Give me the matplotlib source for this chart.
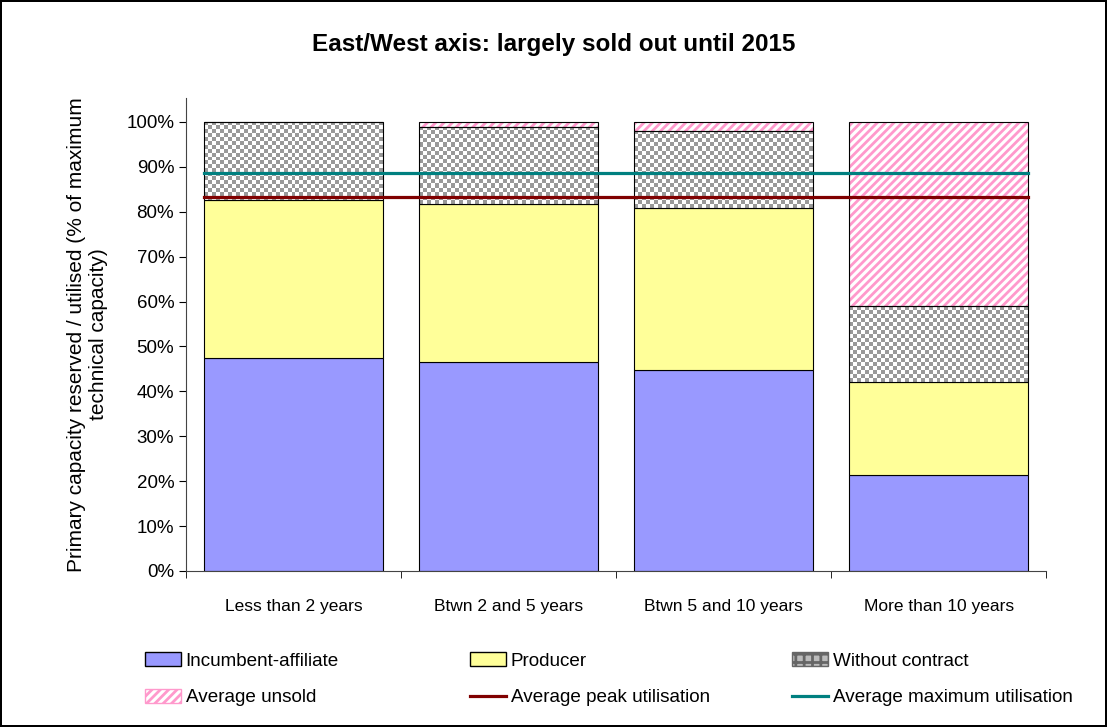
import matplotlib.pyplot as plt
import matplotlib.colors as colors
from matplotlib.patches import Patch
from matplotlib.lines import Line2D
import numpy as np

plt.rcParams['font.family'] = ['Liberation Sans', 'DejaVu Sans']
plt.rcParams['hatch.linewidth'] = 2.0

categories = ['Less than 2 years', 'Btwn 2 and 5 years', 'Btwn 5 and 10 years', 'More than 10 years']
incumbent = [47.4, 46.5, 44.8, 21.4]
producer = [35.2, 35.2, 36.0, 20.7]
without_contract = [17.4, 17.2, 17.2, 16.9]
unsold = [0.0, 1.1, 2.0, 41.0]
avg_peak = 83.2
avg_max = 88.6

C_INC = '#9999ff'
C_PROD = '#ffff99'
C_PINK = '#ff99cc'
C_PEAK = '#800000'
C_MAX = '#008080'

fig = plt.figure(figsize=(11.07, 7.27), dpi=100)
fig.patch.set_edgecolor('black')
fig.patch.set_linewidth(1.5)
ax = fig.add_axes([0.168, 0.2146, 0.777, 0.6504])

x = np.arange(len(categories))
w = 0.83
ax.set_xlim(-0.5, len(categories) - 0.5)
ax.set_ylim(0, 105.3)

ax.bar(x, incumbent, w, color=C_INC, edgecolor='black', linewidth=0.8)
b1 = np.array(incumbent)
ax.bar(x, producer, w, bottom=b1, color=C_PROD, edgecolor='black', linewidth=0.8)
b2 = b1 + np.array(producer)

# checker pattern for "without contract"
checker_cmap = colors.ListedColormap(['#999999', 'white'])
px_x = 215.0
px_y = 4.49
for i in range(len(categories)):
    h = without_contract[i]
    bars = ax.bar(x[i], h, w, bottom=b2[i], color='none', edgecolor='black', linewidth=0.8, zorder=3)
    nx = max(1, int(round(w * px_x / 4)))
    ny = max(1, int(round(h * px_y / 4)))
    board = (np.add.outer(np.arange(ny), np.arange(nx)) % 2)
    im = ax.imshow(board, cmap=checker_cmap, aspect='auto', interpolation='nearest',
                   extent=[x[i] - w / 2, x[i] + w / 2, b2[i], b2[i] + h], zorder=2)
    im.set_clip_path(bars[0])
b3 = b2 + np.array(without_contract)

ax.bar(x, unsold, w, bottom=b3, color='white', edgecolor=C_PINK, hatch='////', linewidth=0, zorder=2)
ax.bar(x, unsold, w, bottom=b3, color='none', edgecolor='black', linewidth=0.8, zorder=3)

xl = [x[0] - w / 2, x[-1] + w / 2]
ax.plot(xl, [avg_max, avg_max], color=C_MAX, linewidth=2.3, zorder=4)
ax.plot(xl, [avg_peak, avg_peak], color=C_PEAK, linewidth=2.3, zorder=4)

ax.set_yticks(np.arange(0, 101, 10))
ax.set_yticklabels([f'{v}%' for v in range(0, 101, 10)], fontsize=13.5)
ax.set_xticks(x)
ax.set_xticklabels(categories, fontsize=12.5)
ax.tick_params(axis='x', length=0, pad=20)
ax.set_xticks(np.arange(-0.5, len(categories), 1), minor=True)
ax.tick_params(axis='x', which='minor', length=5, direction='out')
ax.tick_params(axis='y', length=5, direction='out')
ax.spines['top'].set_visible(False)
ax.spines['right'].set_visible(False)
ax.spines['left'].set_color('#444444')
ax.spines['bottom'].set_color('#444444')

ax.set_ylabel('Primary capacity reserved / utilised (% of maximum\ntechnical capacity)', fontsize=15,
              labelpad=13)
fig.suptitle('East/West axis: largely sold out until 2015', fontsize=17.5, fontweight='bold', y=0.955)

handles = [
    [Patch(facecolor=C_INC, edgecolor='black', label='Incumbent-affiliate'),
     Patch(facecolor='white', edgecolor=C_PINK, hatch='////', label='Average unsold')],
    [Patch(facecolor=C_PROD, edgecolor='black', label='Producer'),
     Line2D([0], [0], color=C_PEAK, linewidth=2.3, label='Average peak utilisation')],
    [Patch(facecolor='#bbbbbb', edgecolor='#666666', hatch='++', label='Without contract'),
     Line2D([0], [0], color=C_MAX, linewidth=2.3, label='Average maximum utilisation')],
]
col_x = [145, 470, 792]
for hs, cx in zip(handles, col_x):
    fig.legend(handles=hs, loc='upper left', bbox_to_anchor=(cx / 1107, 1 - 652 / 727),
               frameon=False, fontsize=13.6, handlelength=1.9, handleheight=0.8,
               handletextpad=0.25, labelspacing=1.0, borderpad=0, borderaxespad=0)

plt.savefig('out.png', dpi=100)
